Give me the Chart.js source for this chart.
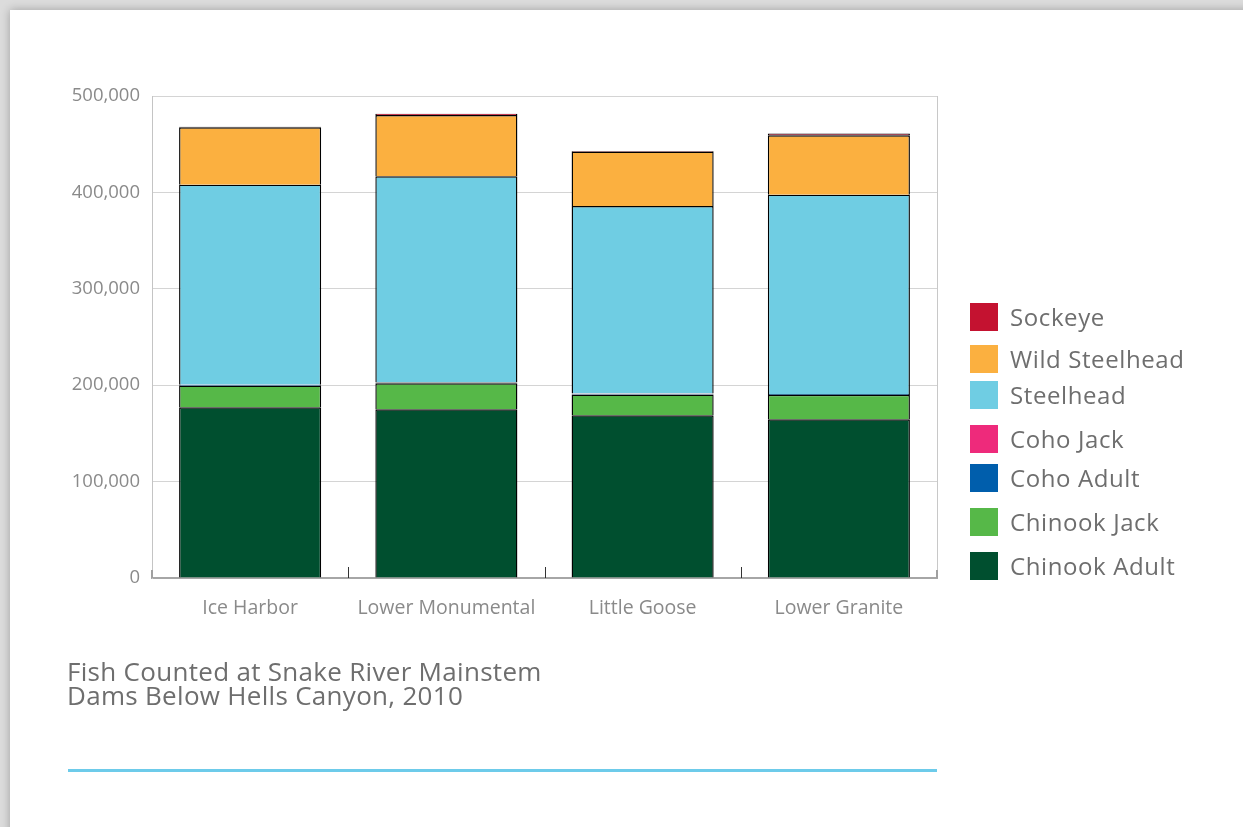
<!DOCTYPE html>
<html>
<head>
<meta charset="utf-8">
<script src="https://cdn.jsdelivr.net/npm/chart.js@4.4.1/dist/chart.umd.min.js"></script>
<style>
  html, body { margin: 0; padding: 0; }
  body { width: 1243px; height: 827px; overflow: hidden; background: #dcdcdc; position: relative; font-family: "Open Sans", "DejaVu Sans", sans-serif; }
  #card { position: absolute; left: 10px; top: 10px; width: 1400px; height: 1000px; background: #fff; box-shadow: 0 0 9px rgba(0,0,0,0.28); }
  #chart { position: absolute; left: 0; top: 0; }
  #legend { position: absolute; left: 970px; top: 0; }
  .li { position: absolute; left: 0; white-space: nowrap; display: flex; align-items: center; }
  .sw { width: 28px; height: 28px; margin-right: 12px; flex: none; }
  .lt { font-size: 24px; letter-spacing: 0.6px; color: #6e6e6e; line-height: 28px; }
  #title { position: absolute; left: 67px; top: 659px; font-size: 26px; letter-spacing: 0.3px; line-height: 24px; color: #6e6e6e; }
  #rule { position: absolute; left: 68px; top: 769px; width: 869px; height: 3px; background: #6dcbea; }
</style>
</head>
<body>
<div id="card"></div>
<canvas id="chart" width="1243" height="827"></canvas>
<div id="legend"></div>
<div id="title">Fish Counted at Snake River Mainstem<br>Dams Below Hells Canyon, 2010</div>
<div id="rule"></div>
<script>
// ---- data ----
const categories = ["Ice Harbor", "Lower Monumental", "Little Goose", "Lower Granite"];
const chinookAdult  = [177000, 175000, 168800, 164600];
const chinookJack   = [22500, 27000, 21500, 25300];
const cohoAdult     = [800, 800, 900, 900];
const cohoJack      = [200, 200, 200, 200];
const steelhead     = [207500, 213700, 194500, 206600];
const wildSteelhead = [59500, 63600, 56300, 61600];
const sockeye       = [600, 1400, 700, 1800];
const yTicks = [0, 100000, 200000, 300000, 400000, 500000];

// ---- styles ----
const seriesNames  = ["Chinook Adult", "Chinook Jack", "Coho Adult", "Coho Jack", "Steelhead", "Wild Steelhead", "Sockeye"];
const seriesData   = [chinookAdult, chinookJack, cohoAdult, cohoJack, steelhead, wildSteelhead, sockeye];
const seriesColors = ["#004f2f", "#56b848", "#005eac", "#ee2a7b", "#6fcde3", "#fbb040", "#c41230"];
const legendTops   = [303, 345, 381, 425, 464, 508, 552]; // top-down order (Sockeye first)

const datasets = seriesNames.map((n, i) => ({
  label: n,
  data: seriesData[i],
  backgroundColor: seriesColors[i],
  borderColor: "#000000",
  borderWidth: 1.4,
  barPercentage: 0.724,
  categoryPercentage: 1.0
}));

// HTML legend (reverse order)
const legend = document.getElementById("legend");
seriesNames.slice().reverse().forEach((n, k) => {
  const idx = seriesNames.length - 1 - k;
  const d = document.createElement("div");
  d.className = "li";
  d.style.top = legendTops[k] + "px";
  d.innerHTML = '<span class="sw" style="background:' + seriesColors[idx] + '"></span><span class="lt">' + n + '</span>';
  legend.appendChild(d);
});

const tickMarks = {
  id: "tickMarks",
  afterDatasetsDraw(chart) {
    const ctx = chart.ctx, a = chart.chartArea, xs = chart.scales.x;
    ctx.save();
    ctx.strokeStyle = "#c8c8c8";
    ctx.lineWidth = 1;
    ctx.beginPath();
    ctx.moveTo(Math.round(a.right) + 0.5, a.top);
    ctx.lineTo(Math.round(a.right) + 0.5, a.bottom);
    ctx.stroke();
    ctx.strokeStyle = "#333";
    for (let i = 1; i < categories.length; i++) {
      const x = Math.round((xs.getPixelForTick(i - 1) + xs.getPixelForTick(i)) / 2) + 0.5;
      ctx.beginPath();
      ctx.moveTo(x, a.bottom - 11);
      ctx.lineTo(x, a.bottom);
      ctx.stroke();
    }
    ctx.strokeStyle = "#a0a0a0";
    ctx.lineWidth = 2;
    ctx.beginPath();
    ctx.moveTo(a.left, a.bottom - 8); ctx.lineTo(a.left, a.bottom);
    ctx.moveTo(a.right, a.bottom - 8); ctx.lineTo(a.right, a.bottom);
    ctx.stroke();
    ctx.restore();
  }
};

new Chart(document.getElementById("chart"), {
  type: "bar",
  data: { labels: categories, datasets },
  options: {
    responsive: false,
    animation: false,
    layout: { padding: { left: 0, right: 306, top: 96, bottom: 0 } },
    plugins: { legend: { display: false }, tooltip: { enabled: false } },
    scales: {
      x: {
        stacked: true,
        grid: { display: false, drawTicks: false },
        border: { display: true, color: "#a6a6a6", width: 2 },
        ticks: { color: "#8a8a8a", font: { family: "'Open Sans', sans-serif", size: 19.5 }, padding: 19 },
        afterFit(s) { s.height = 827 - 578; }
      },
      y: {
        stacked: true,
        min: 0, max: 500000,
        afterBuildTicks(s) { s.ticks = yTicks.map(v => ({ value: v })); },
        grid: { color: "#d4d4d4", drawTicks: false, lineWidth: 1 },
        border: { display: true, color: "#c4c4c4", width: 1 },
        ticks: {
          color: "#8a8a8a",
          font: { family: "'Open Sans', sans-serif", size: 18.5 },
          padding: 12,
          callback: v => v.toLocaleString("en-US")
        },
        afterFit(s) { s.width = 152; }
      }
    }
  },
  plugins: [tickMarks]
});
</script>
</body>
</html>
